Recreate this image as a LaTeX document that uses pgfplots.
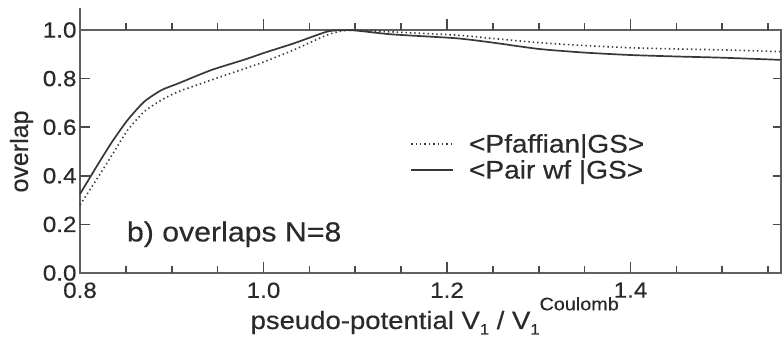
\documentclass[border=0pt]{standalone}
\usepackage{fontspec}
\setmainfont{Liberation Sans}[FakeBold=0.4]
\newfontfamily\wide{Liberation Sans}[FakeStretch=1.1, FakeBold=0.4]
\usepackage{pgfplots}
\pgfplotsset{compat=1.18}
\definecolor{axc}{HTML}{606060}
\definecolor{tkc}{HTML}{4A4A4A}
\definecolor{txc}{HTML}{2A2A2A}
\definecolor{lnc}{HTML}{383838}
\newcommand{\mysub}[1]{\raisebox{-0.22em}{\fontsize{15}{15}\selectfont #1}}
\newcommand{\mysup}[1]{\raisebox{0.75em}{\fontsize{18}{18}\selectfont #1}}
\begin{document}
\begin{tikzpicture}
\begin{axis}[
  name=main,
  scale only axis, width=701pt, height=243pt,
  xmin=0.8, xmax=1.564, ymin=0, ymax=1,
  axis line style={axc, line width=1.2pt},
  tick align=inside,
  xtick={0.8,1.0,1.2,1.4}, xticklabels={0.8,1.0,1.2,1.4},
  xtick pos=left,
  ytick={0,0.2,0.4,0.6,0.8,1.0}, yticklabels={0.0,0.2,0.4,0.6,0.8,1.0},
  ytick pos=left,
  major tick style={draw=none},
  ticklabel style={font=\wide\fontsize{22}{24}\selectfont, text=txc},
  xticklabel style={yshift=-6pt},
  xlabel={pseudo-potential V\mysub{1} / V\mysub{1}\mysup{Coulomb}},
  xlabel style={at={(rel axis cs:0.506,0)}, anchor=base, yshift=-56pt, font=\wide\fontsize{25}{30}\selectfont, text=txc},
  ylabel={overlap},
  ylabel style={at={(rel axis cs:-0.0742,0.5)}, anchor=base, font=\fontsize{25}{30}\selectfont, text=txc},
  legend style={draw=none, fill=none, at={(rel axis cs:0.471,0.477)}, anchor=west,
    font=\wide\fontsize{25.5}{28}\selectfont, text=txc, row sep=2pt, inner sep=0pt,
    cells={anchor=west},
    /tikz/every odd column/.append style={column sep=13pt}},
  legend image code/.code={\draw[#1] (0pt,0pt) -- (42pt,0pt);},
  clip=false,
]
\addplot[lnc, line width=1.6pt, dash pattern=on 1.4pt off 3pt, smooth, tension=0.4] coordinates {
(0.8,0.28) (0.82,0.396) (0.835,0.486) (0.852,0.588) (0.87,0.664) (0.889,0.712)
(0.907,0.746) (0.943,0.794) (0.98,0.842) (1.0,0.868) (1.033,0.918) (1.069,0.979)
(1.087,0.997) (1.1,1.0) (1.14,0.992) (1.21,0.979) (1.25,0.965) (1.3,0.948)
(1.35,0.936) (1.4,0.927) (1.45,0.922) (1.5,0.918) (1.564,0.911)
};
\addlegendentry{<Pfaffian|GS>}
\addplot[lnc, line width=1.7pt, smooth, tension=0.4] coordinates {
(0.8,0.325) (0.82,0.45) (0.835,0.54) (0.852,0.63) (0.87,0.705) (0.889,0.753)
(0.907,0.78) (0.943,0.835) (0.98,0.879) (1.0,0.905) (1.033,0.945) (1.069,0.993)
(1.085,0.999) (1.1,0.998) (1.14,0.982) (1.21,0.966) (1.25,0.948) (1.3,0.922)
(1.35,0.907) (1.4,0.897) (1.45,0.891) (1.5,0.886) (1.564,0.877)
};
\addlegendentry{<Pair wf |GS>}
\node[anchor=base west, font=\wide\fontsize{27.5}{30}\selectfont, text=txc, inner sep=0pt] at (axis cs:0.851,0.13) {b) overlaps N=8};
% tick marks (all in axis coordinates)
\pgfplotsinvokeforeach{0.85,0.9,0.95,1.05,1.1,1.15,1.25,1.3,1.35,1.45,1.5,1.55}{
  \draw[tkc, line width=1.6pt] (axis cs:#1,0) -- (axis cs:#1,0.027);
  \draw[tkc, line width=1.6pt] (axis cs:#1,1) -- (axis cs:#1,1.027);
}
\pgfplotsinvokeforeach{1.0,1.2,1.4}{
  \draw[tkc, line width=1.6pt] (axis cs:#1,0) -- (axis cs:#1,0.045);
  \draw[tkc, line width=1.6pt] (axis cs:#1,1) -- (axis cs:#1,1.045);
}
\pgfplotsinvokeforeach{0.2,0.4,0.6,0.8}{
  \draw[tkc, line width=1.6pt] (axis cs:0.8,#1) -- (axis cs:0.8105,#1);
  \draw[tkc, line width=1.6pt] (axis cs:1.564,#1) -- (axis cs:1.5555,#1);
}
\draw[axc, line width=1.2pt] (axis cs:0.8,1) -- (axis cs:0.8,1.09);
\end{axis}
\pgfresetboundingbox
\path (main.south west) ++(-80pt,-71pt) rectangle ++(782pt,344pt);
\end{tikzpicture}
\end{document}
